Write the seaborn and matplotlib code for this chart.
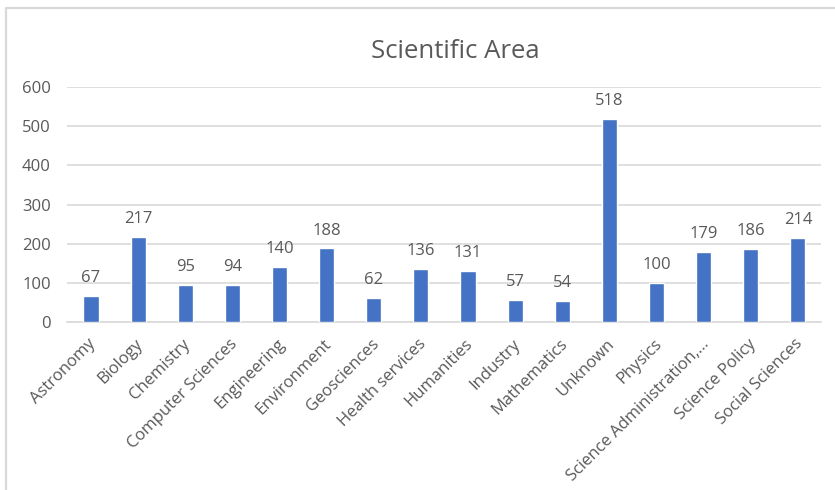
import matplotlib
matplotlib.use("Agg")
import matplotlib.pyplot as plt
import matplotlib.transforms as mtransforms
from matplotlib.lines import Line2D
import seaborn as sns
import pandas as pd

# Counts per scientific area
categories = [
    "Astronomy", "Biology", "Chemistry", "Computer Sciences", "Engineering",
    "Environment", "Geosciences", "Health services", "Humanities", "Industry",
    "Mathematics", "Unknown", "Physics", "Science Administration,…",
    "Science Policy", "Social Sciences",
]
counts = [67, 217, 95, 94, 140, 188, 62, 136, 131, 57, 54, 518, 100, 179, 186, 214]
y_ticks = [0, 100, 200, 300, 400, 500, 600]

BAR = "#4472C4"
TEXT = "#595959"
GRID = "#D9D9D9"

sns.set_theme(style="white")
plt.rcParams["font.family"] = ["Open Sans", "DejaVu Sans"]

df = pd.DataFrame({"area": categories, "count": counts})

fig = plt.figure(figsize=(8.35, 4.9), dpi=100)
ax = fig.add_axes([0.0808, 0.3429, 0.9030, 0.4795])

sns.barplot(data=df, x="area", y="count", color=BAR, width=0.32,
            saturation=1, ax=ax, zorder=3)

ax.set_ylim(0, 600)
ax.set_yticks(y_ticks)
ax.set_xlim(-0.5, len(categories) - 0.5)
ax.yaxis.grid(True, color=GRID, linewidth=1.2, zorder=0)
ax.xaxis.grid(False)
for side in ("top", "right", "left"):
    ax.spines[side].set_visible(False)
ax.spines["bottom"].set_color(GRID)
ax.spines["bottom"].set_linewidth(1.2)
ax.tick_params(axis="both", length=0, colors=TEXT, labelsize=12)
ax.tick_params(axis="y", pad=12)
ax.tick_params(axis="x", pad=10)
ax.set_xlabel("")
ax.set_ylabel("")

shift = mtransforms.ScaledTranslation(-3 / 100, 0, fig.dpi_scale_trans)
for lbl in ax.get_xticklabels():
    lbl.set_rotation(45)
    lbl.set_ha("right")
    lbl.set_va("top")
    lbl.set_rotation_mode("anchor")
    lbl.set_transform(lbl.get_transform() + shift)

# value labels above each bar
for bar, v in zip(ax.patches, counts):
    ax.annotate(f"{v}", (bar.get_x() + bar.get_width() / 2, v),
                xytext=(0, 7), textcoords="offset points",
                ha="center", va="bottom", fontsize=12, color=TEXT)

fig.text(0.545, 0.895, "Scientific Area", ha="center", va="center",
         fontsize=18.5, color=TEXT)

# chart frame (top and left edges)
fig.add_artist(Line2D([6 / 835, 1.0], [1 - 8 / 490, 1 - 8 / 490],
                      transform=fig.transFigure, color=GRID, linewidth=1.6))
fig.add_artist(Line2D([6 / 835, 6 / 835], [0, 1 - 8 / 490],
                      transform=fig.transFigure, color=GRID, linewidth=1.6))

fig.savefig("out.png", dpi=100, facecolor="white")
